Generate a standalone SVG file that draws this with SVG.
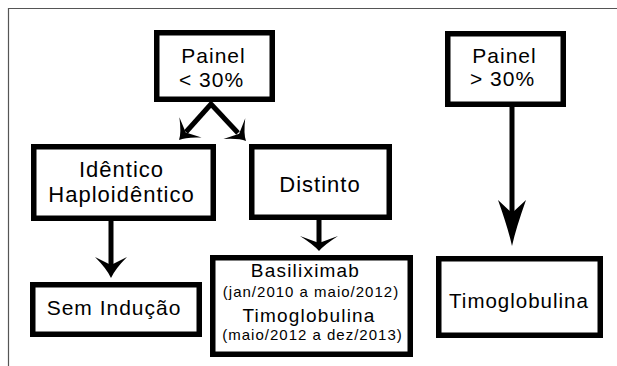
<svg xmlns="http://www.w3.org/2000/svg" xmlns:xlink="http://www.w3.org/1999/xlink" width="617" height="366" viewBox="0 0 617 366">
<style>
  .box{fill:#fff;stroke:#000;stroke-width:5.5}
  .t{font-family:"Liberation Sans",Arial,sans-serif;fill:#000;text-anchor:middle;letter-spacing:1px}
  .l{font-size:22px}
  .m{font-size:21px}
  .s{font-size:19px;letter-spacing:1.2px}
  .xs{font-size:15px}
  .ln{stroke:#000;stroke-width:5;fill:none}
  .hd{fill:#000}
  .frame{stroke:#555;stroke-width:1.2;fill:none}
</style>
<rect x="0" y="0" width="617" height="366" fill="#fff"/>
<path class="frame" d="M8.5,366 V8.5 H617"/>

<g id="connectors">
  <!-- Painel <30% to Idêntico -->
  <line class="ln" x1="212" y1="103" x2="186" y2="132"/>
  <path class="hd" transform="translate(179,140) rotate(132.4)" d="M0,0 Q-7,-3 -17,-15 L-10,0 L-17,15 Q-7,3 0,0 Z"/>
  <!-- Painel <30% to Distinto -->
  <line class="ln" x1="210" y1="103" x2="238" y2="133"/>
  <path class="hd" transform="translate(246,141) rotate(46.7)" d="M0,0 Q-7,-3 -17,-15 L-10,0 L-17,15 Q-7,3 0,0 Z"/>
  <!-- Idêntico to Sem Indução -->
  <line class="ln" x1="111" y1="220" x2="111" y2="266"/>
  <path class="hd" transform="translate(111,278) rotate(90)" d="M0,0 Q-9,-4 -21,-16 L-13,0 L-21,16 Q-9,4 0,0 Z"/>
  <!-- Distinto to Basiliximab -->
  <line class="ln" x1="319" y1="219" x2="319" y2="244"/>
  <path class="hd" transform="translate(319,251) rotate(90)" d="M0,0 Q-6,-5 -15,-19 L-8,0 L-15,19 Q-6,5 0,0 Z"/>
  <!-- Painel >30% to Timoglobulina -->
  <line class="ln" x1="512" y1="106" x2="512" y2="214"/>
  <path class="hd" transform="translate(512,246) rotate(90)" d="M0,0 Q-18,-4 -46,-14 L-33,0 L-46,14 Q-18,4 0,0 Z"/>
</g>

<g id="painel-lt30">
  <rect class="box" x="156.75" y="32.75" width="115.5" height="66.5"/>
  <text class="t m" x="213.5" y="63">Painel</text>
  <text class="t m" x="211.5" y="87">&lt; 30%</text>
</g>
<g id="painel-gt30">
  <rect class="box" x="447.75" y="33.75" width="115.5" height="70.5"/>
  <text class="t m" x="504.5" y="63">Painel</text>
  <text class="t m" x="502.5" y="86">&gt; 30%</text>
</g>
<g id="identico">
  <rect class="box" x="33.75" y="146.75" width="179.5" height="71.5"/>
  <text class="t l" x="121.5" y="177">Idêntico</text>
  <text class="t l" x="121.5" y="202">Haploidêntico</text>
</g>
<g id="distinto">
  <rect class="box" x="251.75" y="146.75" width="137.5" height="70.5"/>
  <text class="t l" x="320" y="192">Distinto</text>
</g>
<g id="sem-inducao">
  <rect class="box" x="32.75" y="284.75" width="166.5" height="49.5"/>
  <text class="t m" x="114" y="315">Sem Indução</text>
</g>
<g id="basiliximab">
  <rect class="box" x="212.75" y="257.75" width="197.5" height="96.5"/>
  <text class="t s" x="305.5" y="277">Basiliximab</text>
  <text class="t xs" x="311" y="297">(jan/2010 a maio/2012)</text>
  <text class="t s" x="309" y="322">Timoglobulina</text>
  <text class="t xs" x="312.5" y="340">(maio/2012 a dez/2013)</text>
</g>
<g id="timoglobulina">
  <rect class="box" x="438.75" y="258.75" width="161.5" height="76.5"/>
  <text class="t" style="font-size:20.5px" x="519" y="308">Timoglobulina</text>
</g>
</svg>
